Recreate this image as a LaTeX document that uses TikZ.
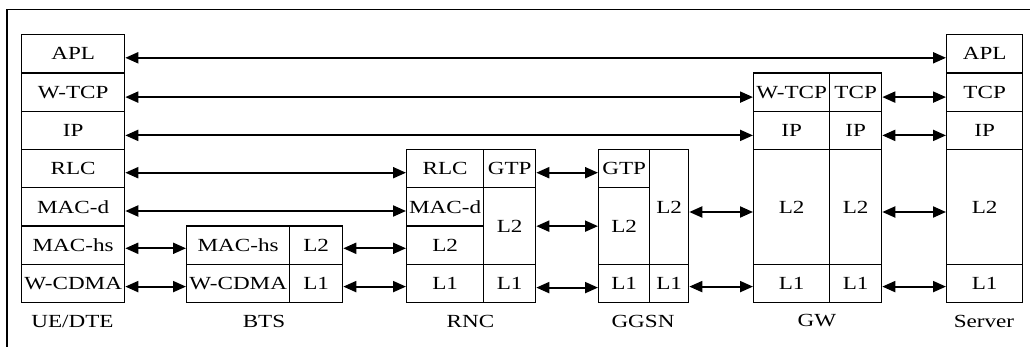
\documentclass[tikz,border=0pt]{standalone}
\usepackage{fontspec}
\setmainfont[FakeStretch=1.25]{Liberation Serif}
\usetikzlibrary{arrows.meta}
\tikzset{
  cell/.style={draw, line width=1.3pt, inner sep=0pt, anchor=north west, font=\fontsize{18.5}{20}\selectfont},
  lbl/.style={inner sep=0pt, font=\fontsize{18.5}{20}\selectfont},
  link/.style={line width=2pt, {Triangle[length=13pt,width=11pt]}-{Triangle[length=13pt,width=11pt]}},
  frame/.style={line width=1.2pt}
}
\newcommand\mkcell[6]{\node[cell, minimum width={(#4-#2)*1pt}, minimum height={(#5-#3)*1pt}] (#1) at (#2,#3) {#6};}
\def\RA{34}\def\RB{72.3}\def\RC{110.6}\def\RD{148.9}\def\RE{187.2}\def\RF{225.5}\def\RG{263.8}\def\RH{302.1}
\begin{document}
\begin{tikzpicture}[x=1pt,y=-1pt]
\useasboundingbox (0,0) rectangle (1030,347);
\draw[frame] (7,347) -- (7,9.5) -- (1030,9.5);
% UE/DTE
\mkcell{ueapl}{21}{\RA}{124}{\RB}{APL}
\mkcell{uewtcp}{21}{\RB}{124}{\RC}{W-TCP}
\mkcell{ueip}{21}{\RC}{124}{\RD}{IP}
\mkcell{uerlc}{21}{\RD}{124}{\RE}{RLC}
\mkcell{uemacd}{21}{\RE}{124}{\RF}{MAC-d}
\mkcell{uemachs}{21}{\RF}{124}{\RG}{MAC-hs}
\mkcell{uewcdma}{21}{\RG}{124}{\RH}{W-CDMA}
% BTS
\mkcell{btsmachs}{186}{\RF}{289}{\RG}{MAC-hs}
\mkcell{btswcdma}{186}{\RG}{289}{\RH}{W-CDMA}
\mkcell{btsl2}{289}{\RF}{342}{\RG}{L2}
\mkcell{btsl1}{289}{\RG}{342}{\RH}{L1}
% RNC
\mkcell{rncrlc}{406}{\RD}{483}{\RE}{RLC}
\mkcell{rncmacd}{406}{\RE}{483}{\RF}{MAC-d}
\mkcell{rncl2a}{406}{\RF}{483}{\RG}{L2}
\mkcell{rncl1a}{406}{\RG}{483}{\RH}{L1}
\mkcell{rncgtp}{483}{\RD}{535}{\RE}{GTP}
\mkcell{rncl2b}{483}{\RE}{535}{\RG}{L2}
\mkcell{rncl1b}{483}{\RG}{535}{\RH}{L1}
% GGSN
\mkcell{ggsngtp}{598}{\RD}{649}{\RE}{GTP}
\mkcell{ggsnl2a}{598}{\RE}{649}{\RG}{L2}
\mkcell{ggsnl1a}{598}{\RG}{649}{\RH}{L1}
\mkcell{ggsnl2b}{649}{\RD}{688}{\RG}{L2}
\mkcell{ggsnl1b}{649}{\RG}{688}{\RH}{L1}
% GW
\mkcell{gwwtcp}{753}{\RB}{829}{\RC}{W-TCP}
\mkcell{gwipa}{753}{\RC}{829}{\RD}{IP}
\mkcell{gwl2a}{753}{\RD}{829}{\RG}{L2}
\mkcell{gwl1a}{753}{\RG}{829}{\RH}{L1}
\mkcell{gwtcp}{829}{\RB}{881}{\RC}{TCP}
\mkcell{gwipb}{829}{\RC}{881}{\RD}{IP}
\mkcell{gwl2b}{829}{\RD}{881}{\RG}{L2}
\mkcell{gwl1b}{829}{\RG}{881}{\RH}{L1}
% Server
\mkcell{svapl}{946}{\RA}{1022}{\RB}{APL}
\mkcell{svtcp}{946}{\RB}{1022}{\RC}{TCP}
\mkcell{svip}{946}{\RC}{1022}{\RD}{IP}
\mkcell{svl2}{946}{\RD}{1022}{\RG}{L2}
\mkcell{svl1}{946}{\RG}{1022}{\RH}{L1}
% labels
\node[lbl] (lue) at (72.5,321) {UE/DTE};
\node[lbl] (lbts) at (264,321) {BTS};
\node[lbl] (lrnc) at (470.5,321) {RNC};
\node[lbl] (lggsn) at (643,321) {GGSN};
\node[lbl] (lgw) at (817,321) {GW};
\node[lbl] (lsv) at (984,321) {Server};
% links
\draw[link] ([yshift=-4pt]ueapl.east) -- ([yshift=-4pt]svapl.west);
\draw[link] ([yshift=-5pt]uewtcp.east) -- ([yshift=-5pt]gwwtcp.west);
\draw[link] ([yshift=-5pt]ueip.east) -- ([yshift=-5pt]gwipa.west);
\draw[link] ([yshift=-4pt]uerlc.east) -- ([yshift=-4pt]rncrlc.west);
\draw[link] ([yshift=-4pt]uemacd.east) -- ([yshift=-4pt]rncmacd.west);
\draw[link] ([yshift=-3pt]uemachs.east) -- ([yshift=-3pt]btsmachs.west);
\draw[link] ([yshift=-3pt]uewcdma.east) -- ([yshift=-3pt]btswcdma.west);
\draw[link] ([yshift=-3pt]btsl2.east) -- ([yshift=-3pt]rncl2a.west);
\draw[link] ([yshift=-3pt]btsl1.east) -- ([yshift=-3pt]rncl1a.west);
\draw[link] ([yshift=-4pt]rncgtp.east) -- ([yshift=-4pt]ggsngtp.west);
\draw[link] (rncl2b.east) -- (ggsnl2a.west);
\draw[link] ([yshift=-4pt]rncl1b.east) -- ([yshift=-4pt]ggsnl1a.west);
\draw[link] ([yshift=-5pt]ggsnl2b.east) -- ([yshift=-5pt]gwl2a.west);
\draw[link] ([yshift=-3pt]ggsnl1b.east) -- ([yshift=-3pt]gwl1a.west);
\draw[link] ([yshift=-5pt]gwtcp.east) -- ([yshift=-5pt]svtcp.west);
\draw[link] ([yshift=-5pt]gwipb.east) -- ([yshift=-5pt]svip.west);
\draw[link] ([yshift=-5pt]gwl2b.east) -- ([yshift=-5pt]svl2.west);
\draw[link] ([yshift=-3pt]gwl1b.east) -- ([yshift=-3pt]svl1.west);
\end{tikzpicture}
\end{document}
